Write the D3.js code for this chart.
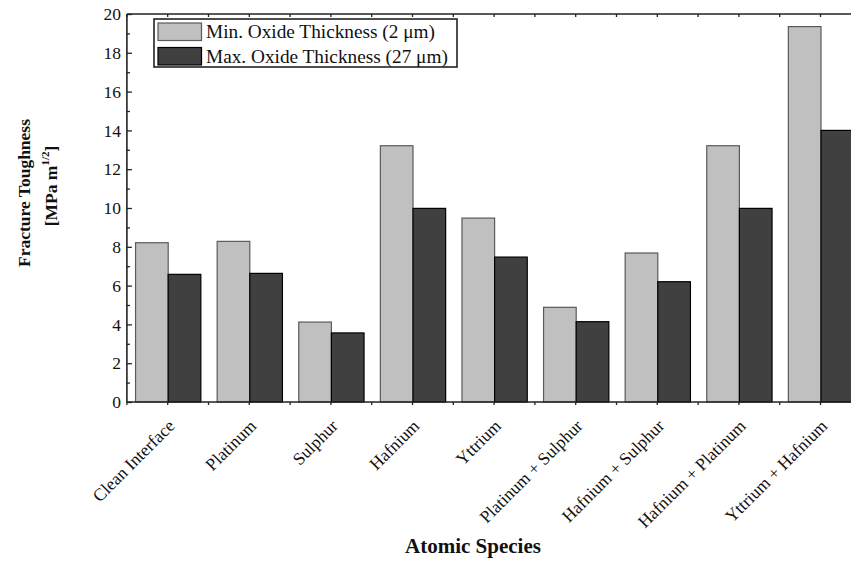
<!DOCTYPE html>
<html>
<head>
<meta charset="utf-8">
<script src="https://cdn.jsdelivr.net/npm/d3@7"></script>
<style>
  html, body { margin: 0; padding: 0; background: #fff; }
  svg { display: block; font-family: "Liberation Serif", "Times New Roman", serif; }
</style>
</head>
<body>
<svg id="chart" width="851" height="561"></svg>
<script>
// Fracture toughness by interfacial atomic species, for two oxide thicknesses
const categories = [
  "Clean Interface", "Platinum", "Sulphur", "Hafnium", "Yttrium",
  "Platinum + Sulphur", "Hafnium + Sulphur", "Hafnium + Platinum", "Yttrium + Hafnium"
];
const seriesNames = ["Min. Oxide Thickness (2 \u03bcm)", "Max. Oxide Thickness (27 \u03bcm)"];
const minOxide = [8.21, 8.28, 4.12, 13.21, 9.48, 4.88, 7.68, 13.21, 19.35];
const maxOxide = [6.58, 6.63, 3.56, 9.98, 7.47, 4.14, 6.2, 9.98, 14.0];
const yTicks = [0, 2, 4, 6, 8, 10, 12, 14, 16, 18, 20];

const fills = ["#c0c0c0", "#404040"];
const strokes = ["#5a5a5a", "#000"];

const svg = d3.select("#chart");
const plotLeft = 126.9, plotTop = 14, plotBottom = 402, plotRight = 861.3;

const x = d3.scaleBand().domain(categories).range([plotLeft, plotRight])
  .paddingInner(0.2).paddingOuter(0.1);
const xs = d3.scaleBand().domain([0, 1]).range([0, x.bandwidth()]);
const y = d3.scaleLinear().domain([0, 20]).range([plotBottom, plotTop]);

const rows = categories.map((c, i) => ({ c, v: [minOxide[i], maxOxide[i]] }));

// bars
const g = svg.append("g");
g.selectAll("g.grp").data(rows).join("g")
  .attr("transform", d => `translate(${x(d.c)},0)`)
  .selectAll("rect").data(d => d.v.map((v, k) => ({ v, k })))
  .join("rect")
  .attr("x", d => xs(d.k) + 0.5)
  .attr("y", d => y(d.v))
  .attr("width", xs.bandwidth())
  .attr("height", d => y(0) - y(d.v))
  .attr("fill", d => fills[d.k])
  .attr("stroke", d => strokes[d.k])
  .attr("stroke-width", 1.2);

// axes
const axisColor = "#222";
const yAxis = d3.axisLeft(y).tickValues(d3.range(0, 21, 1)).tickSize(-4)
  .tickFormat(d => yTicks.includes(d) ? d : "");
const ya = svg.append("g").attr("transform", `translate(${plotLeft},0)`).call(yAxis);
ya.select(".domain").remove();
ya.selectAll(".tick line").attr("stroke", axisColor).attr("stroke-width", 1.3)
  .attr("x2", d => yTicks.includes(d) ? 5 : 3);
ya.selectAll(".tick text").attr("x", -6).attr("font-size", 17.5).attr("fill", "#111")
  .attr("font-family", "Liberation Serif");

// half-category ticks on bottom and top
const halfTicks = [];
categories.forEach(c => {
  halfTicks.push(x(c) - x.step() * x.paddingInner() / 2);
  halfTicks.push(x(c) + x.bandwidth() / 2);
});
halfTicks.push(plotRight);

svg.append("g").selectAll("line.bt").data(halfTicks).join("line")
  .attr("x1", d => d).attr("x2", d => d).attr("y1", plotBottom).attr("y2", plotBottom + 3)
  .attr("stroke", axisColor).attr("stroke-width", 1.3);
svg.append("g").selectAll("line.tt").data(halfTicks).join("line")
  .attr("x1", d => d).attr("x2", d => d).attr("y1", plotTop).attr("y2", plotTop + 3)
  .attr("stroke", axisColor).attr("stroke-width", 1.3);

svg.append("line").attr("x1", plotLeft).attr("x2", plotRight).attr("y1", plotBottom).attr("y2", plotBottom)
  .attr("stroke", axisColor).attr("stroke-width", 1.6);
svg.append("line").attr("x1", plotLeft).attr("x2", plotRight).attr("y1", plotTop).attr("y2", plotTop)
  .attr("stroke", axisColor).attr("stroke-width", 1.6);
svg.append("line").attr("x1", plotLeft).attr("x2", plotLeft).attr("y1", plotTop).attr("y2", plotBottom)
  .attr("stroke", axisColor).attr("stroke-width", 1.6);

// rotated category labels
svg.append("g").selectAll("text").data(categories).join("text")
  .attr("transform", c => `translate(${x(c) + x.bandwidth() / 2 + 8},${plotBottom + 25}) rotate(-45)`)
  .attr("text-anchor", "end")
  .attr("font-size", 17.5)
  .attr("fill", "#111")
  .text(c => c);

// axis titles
svg.append("text").attr("x", 473).attr("y", 553).attr("text-anchor", "middle")
  .attr("font-weight", "bold").attr("font-size", 21).attr("fill", "#111")
  .text("Atomic Species");

svg.append("text").attr("transform", "translate(30,193) rotate(-90)")
  .attr("text-anchor", "middle").attr("font-weight", "bold").attr("font-size", 17.5)
  .attr("fill", "#111").text("Fracture Toughness");
const t2 = svg.append("text").attr("transform", "translate(57,186) rotate(-90)")
  .attr("text-anchor", "middle").attr("font-weight", "bold").attr("font-size", 17.5)
  .attr("fill", "#111");
t2.append("tspan").text("[MPa m");
t2.append("tspan").attr("dy", -8).attr("font-size", 11).text("1/2");
t2.append("tspan").attr("dy", 8).text("]");

// legend
const lg = svg.append("g");
lg.append("rect").attr("x", 154).attr("y", 19).attr("width", 303).attr("height", 48)
  .attr("fill", "#fff").attr("stroke", "#222").attr("stroke-width", 1.6);
seriesNames.forEach((name, k) => {
  const yy = 23 + k * 24.5;
  lg.append("rect").attr("x", 158).attr("y", yy).attr("width", 43.5).attr("height", 17.5)
    .attr("fill", fills[k]).attr("stroke", strokes[k]).attr("stroke-width", 1.2);
  lg.append("text").attr("x", 206).attr("y", yy + 15).attr("font-size", 19.3)
    .attr("fill", "#111").text(name);
});
</script>
</body>
</html>
